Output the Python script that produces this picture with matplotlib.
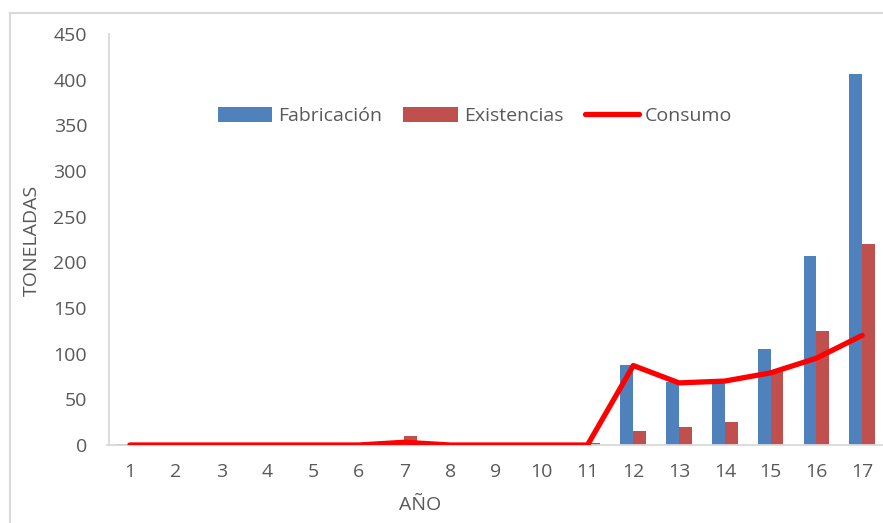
import numpy as np
import matplotlib
matplotlib.use('Agg')
import matplotlib.pyplot as plt
from matplotlib.lines import Line2D

# toneladas por año
anios = list(range(1, 18))
fabricacion = [1, 0, 0, 0, 0, 0, 1, 0, 0, 0, 0, 88, 69, 70, 105, 207, 406]
existencias = [0, 0, 0, 0, 0, 0, 10, 0, 0, 0, 2, 15, 20, 25, 80, 125, 220]
consumo = [0, 0, 0, 0, 0, 0, 3, 0, 0, 0, 0, 87, 68, 70, 79, 95, 120]

plt.rcParams['font.family'] = ['Open Sans', 'DejaVu Sans']
gris = '#595959'
linea = '#D9D9D9'
fs = 14

fig = plt.figure(figsize=(8.83, 5.23), dpi=100)
W, H = 883, 523
ax = fig.add_axes([107 / W, 1 - 445 / H, (885 - 107) / W, (445 - 34) / H])

x = np.array(anios)
w = 0.28
ax.bar(x - w / 2, fabricacion, width=w, color='#4F81BD', label='Fabricación')
ax.bar(x + w / 2, existencias, width=w, color='#C0504D', label='Existencias')
ax.plot(x, consumo, color='#FF0000', lw=3.8, solid_capstyle='round',
        solid_joinstyle='round', label='Consumo', zorder=3)

ax.set_xlim(0.5, 17.5)
ax.set_ylim(0, 450)
ax.set_yticks(range(0, 451, 50))
ax.set_xticks(anios)
ax.tick_params(length=0, labelsize=fs, colors=gris)
ax.tick_params(axis='y', pad=16)
ax.tick_params(axis='x', pad=13)
for s in ['top', 'right']:
    ax.spines[s].set_visible(False)
for s in ['left', 'bottom']:
    ax.spines[s].set_color(linea)
    ax.spines[s].set_linewidth(1.3)
ax.spines['left'].set_position(('data', 0.55))

handles, labels = ax.get_legend_handles_labels()
order = [1, 2, 0]
ax.legend([handles[i] for i in order], [labels[i] for i in order],
          loc='center', bbox_to_anchor=(0.473, 0.80), ncol=3, frameon=False,
          fontsize=fs, labelcolor=gris, handlelength=2.8, handleheight=0.75,
          handletextpad=0.3, columnspacing=1.1)

fig.text(32 / W, 1 - 240 / H, 'TONELADAS', rotation=90, ha='center', va='center',
         fontsize=fs, color=gris)
fig.text(420 / W, 1 - 505 / H, 'AÑO', ha='center', va='center',
         fontsize=fs, color=gris)

# marco exterior del gráfico
fig.add_artist(Line2D([10 / W, 10 / W], [0, 1 - 13 / H], color=linea, lw=1.5))
fig.add_artist(Line2D([10 / W, 1], [1 - 13 / H, 1 - 13 / H], color=linea, lw=1.5))

fig.savefig('out.png', dpi=100)
